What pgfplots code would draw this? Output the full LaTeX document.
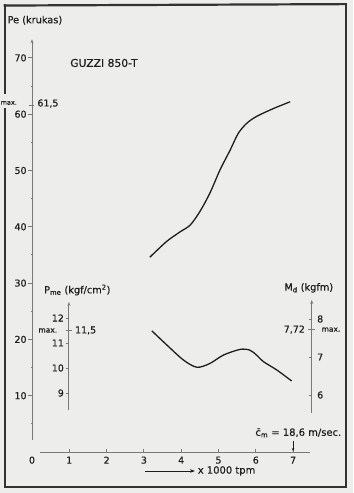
\documentclass[border=0pt]{standalone}
\usepackage{pgfplots}
\pgfplotsset{compat=1.18}
\usepackage{fontspec}
\setmainfont{DejaVu Sans}[FakeBold=0.5]
\usetikzlibrary{arrows.meta}
\definecolor{bg}{RGB}{237,237,235}
\definecolor{ink}{RGB}{30,30,30}
\definecolor{axc}{RGB}{120,120,120}
\pgfplotsset{
  base/.style={scale only axis, width=353bp, height=493bp,
    xmin=-0.8579, xmax=8.6059, hide axis, clip=false},
}
\newcommand{\smallmax}{\fontsize{7.5}{8}\selectfont}
\begin{document}
\begin{tikzpicture}[font=\fontsize{9.5}{11}\selectfont,
  every node/.style={inner sep=0pt, text=ink},
  ax/.style={axc, line width=0.9bp},
  fr/.style={line width=2.2bp, black!80, line cap=rect},
  curve/.style={ink, line width=1.3bp, smooth, no marks}]
% ---------- main axis: Pe (krukas) ----------
\begin{axis}[base, ymin=-7.282, ymax=80.284]
 \fill[bg] (axis cs:-0.8579,-7.282) rectangle (axis cs:8.6059,80.284);
 % frame (separate sides)
 \draw[fr] (axis cs:-0.73,79.3) -- (axis cs:8.41,79.55);
 \draw[fr] (axis cs:8.41,79.55) -- (axis cs:8.41,-6.2);
 \draw[fr] (axis cs:8.41,-6.2) -- (axis cs:-0.73,-6.2);
 \draw[fr] (axis cs:-0.73,-6.2) -- (axis cs:-0.73,60.9);
 \draw[fr] (axis cs:-0.73,63.8) -- (axis cs:-0.73,79.3);
 % Pe axis
 \draw[ax, -{Stealth[length=4bp,width=3bp]}] (axis cs:0,2.1) -- (axis cs:0,73.3);
 \pgfplotsinvokeforeach{10,20,...,70}{
   \draw[ax] (axis cs:-0.1,#1) -- (axis cs:0,#1);
   \node[anchor=east] at (axis cs:-0.14,#1) {#1};
 }
 \pgfplotsinvokeforeach{5,15,...,65}{
   \draw[ax] (axis cs:-0.04,#1) -- (axis cs:0.03,#1);
 }
 \draw[ax] (axis cs:-0.09,61.5) -- (axis cs:0.06,61.5);
 \node[anchor=west, font=\fontsize{6.5}{7}\selectfont] at (axis cs:-0.845,62.0) {max.};
 \node[anchor=west] at (axis cs:0.14,61.9) {61,5};
 \node[anchor=west, font=\fontsize{10.8}{12}\selectfont] at (axis cs:1.02,69.1) {GUZZI 850-T};
 \node[anchor=west, font=\fontsize{9.8}{11}\selectfont] at (axis cs:-0.66,76.7) {Pe (krukas)};
 % x axis
 \draw[ax] (axis cs:0.21,0) -- (axis cs:7.45,0);
 \pgfplotsinvokeforeach{1,...,7}{
   \draw[ax] (axis cs:#1,0) -- (axis cs:#1,0.6);
 }
 \pgfplotsinvokeforeach{0,...,7}{
   \node at (axis cs:#1,-1.45) {#1};
 }
 \draw[ink, line width=0.7bp, -{Stealth[length=5bp,width=3.5bp]}] (axis cs:3.03,-3.37) -- (axis cs:4.37,-3.37);
 \node[anchor=west, font=\fontsize{10}{11}\selectfont] at (axis cs:4.44,-3.37) {x 1000 tpm};
 \node[font=\fontsize{10}{11}\selectfont] at (axis cs:7.14,3.4) {\=c\textsubscript{m} = 18,6 m/sec.};
 \draw[ink, line width=0.6bp, -{Stealth[length=3bp,width=2.5bp]}] (axis cs:7,1.9) -- (axis cs:7,0.15);
 % Pe curve
 \addplot[curve] coordinates {
   (3.16,34.6) (3.61,37.4) (3.97,39.1) (4.24,40.3) (4.50,42.7)
   (4.77,46.0) (5.04,50.1) (5.31,53.6) (5.53,56.6) (5.76,58.4)
   (6.02,59.6) (6.47,61.0) (6.92,62.2)
 };
\end{axis}
% ---------- Md (kgfm) axis ----------
\begin{axis}[base, ymin=3.4211, ymax=16.3947]
 \draw[ax, -{Stealth[length=4bp,width=3bp]}] (axis cs:7.5,5.53) -- (axis cs:7.5,8.5);
 \pgfplotsinvokeforeach{6,7,8}{
   \draw[ax] (axis cs:7.42,#1) -- (axis cs:7.5,#1);
   \node[anchor=west] at (axis cs:7.64,#1) {#1};
 }
 \draw[ax] (axis cs:7.4,7.72) -- (axis cs:7.6,7.72);
 \node[anchor=east] at (axis cs:7.32,7.72) {7,72};
 \node[anchor=west, font=\smallmax] at (axis cs:7.76,7.72) {max.};
 \node[anchor=west, font=\fontsize{9.8}{11}\selectfont] at (axis cs:6.76,8.82) {M\textsubscript{d} (kgfm)};
 \addplot[curve] coordinates {
   (3.21,7.69) (3.61,7.32) (4.06,6.92) (4.42,6.73) (4.77,6.83)
   (5.13,7.05) (5.58,7.20) (5.84,7.18) (6.02,7.05) (6.20,6.88)
   (6.56,6.66) (6.96,6.37)
 };
\end{axis}
% ---------- Pme (kgf/cm2) axis ----------
\begin{axis}[base, ymin=5, ymax=24.72]
 \draw[ax, -{Stealth[length=4bp,width=3bp]}] (axis cs:0.99,8.32) -- (axis cs:0.99,12.64);
 \pgfplotsinvokeforeach{9,10,11,12}{
   \draw[ax] (axis cs:0.91,#1) -- (axis cs:0.99,#1);
   \node[anchor=east] at (axis cs:0.86,#1) {#1};
 }
 \draw[ax] (axis cs:0.9,11.5) -- (axis cs:1.08,11.5);
 \node[anchor=east, font=\smallmax] at (axis cs:0.68,11.5) {max.};
 \node[anchor=west] at (axis cs:1.15,11.5) {11,5};
 \node[anchor=west, font=\fontsize{9.8}{11}\selectfont] at (axis cs:0.32,13.12) {P\textsubscript{me} (kgf/cm\textsuperscript{2})};
\end{axis}
\end{tikzpicture}
\end{document}
